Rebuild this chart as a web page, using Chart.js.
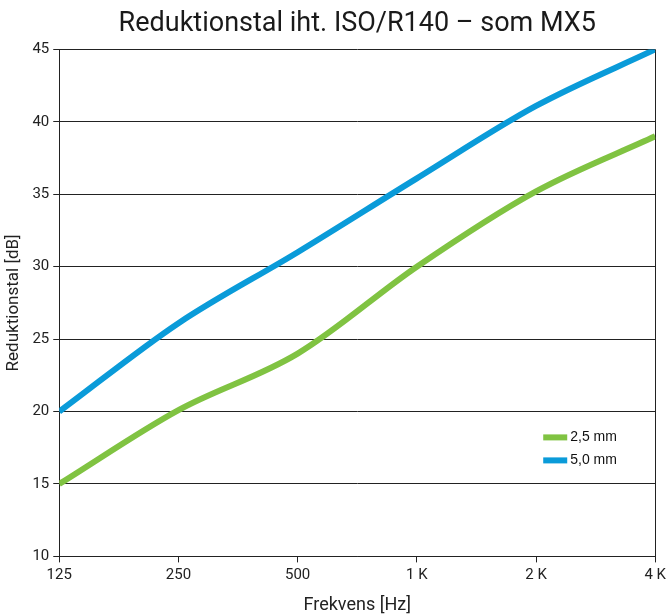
<!DOCTYPE html>
<html>
<head>
<meta charset="utf-8">
<script src="https://cdn.jsdelivr.net/npm/chart.js@4.4.1/dist/chart.umd.min.js"></script>
<style>
  body { margin: 0; background: #fff; }
  #wrap { width: 670px; height: 616px; }
</style>
</head>
<body>
<div id="wrap"><canvas id="myChart"></canvas></div>
<script>
var freqs = [125, 250, 500, 1000, 2000, 4000];
var thin = [15, 20.1, 24, 30, 35.2, 39];
var thick = [20, 26.1, 31, 36.1, 41.1, 45];
var tickLabels = ["125", "250", "500", "1 K", "2 K", "4 K"];
var seriesNames = ["2,5 mm", "5,0 mm"];
var seriesColors = ["#80c342", "#0a9bd9"];

function points(vals) {
   return freqs.map(function (f, i) { return { x: f, y: vals[i] }; });
}

// legend sits inside the plot, lower right
var innerLegend = {
   id: 'innerLegend',
   afterDraw: function (chart) {
      var c = chart.ctx, a = chart.chartArea;
      var x = a.right - 112, y = a.bottom - 119;
      c.save();
      c.font = '14px "Liberation Sans", Arial, sans-serif';
      c.textBaseline = 'middle';
      chart.data.datasets.forEach(function (ds, i) {
         var yy = y + i * 23;
         c.fillStyle = ds.borderColor;
         c.fillRect(x, yy - 3, 24, 6);
         c.fillStyle = '#111';
         c.fillText(ds.label, x + 27, yy);
      });
      c.restore();
   }
};

var ctx = document.getElementById("myChart").getContext('2d');
var myChart = new Chart(ctx, {
   type: 'line',
   data: {
      datasets: [{
         label: seriesNames[0],
         data: points(thin),
         borderColor: seriesColors[0],
         borderWidth: 6,
         pointRadius: 0,
         cubicInterpolationMode: 'monotone',
         fill: false
      }, {
         label: seriesNames[1],
         data: points(thick),
         borderColor: seriesColors[1],
         borderWidth: 6,
         pointRadius: 0,
         cubicInterpolationMode: 'monotone',
         fill: false
      }]
   },
   options: {
      responsive: true,
      maintainAspectRatio: false,
      animation: false,
      layout: { padding: { left: 4, right: 0, top: 0, bottom: 0 } },
      plugins: {
         legend: { display: false },
         tooltip: { enabled: false },
         title: {
            display: true,
            fullSize: false,
            text: 'Reduktionstal iht. ISO/R140 – som MX5',
            color: '#1a1a1a',
            font: { family: '"Liberation Sans Narrow", "Roboto", sans-serif', size: 27, weight: 'normal' },
            padding: { top: 8, bottom: 9 }
         }
      },
      scales: {
         x: {
            type: 'logarithmic',
            min: 125,
            max: 4000,
            afterBuildTicks: function (scale) {
               scale.ticks = freqs.map(function (v) { return { value: v }; });
            },
            ticks: {
               autoSkip: false,
               maxRotation: 0,
               color: '#222',
               font: { family: '"Liberation Sans Narrow", "Roboto", sans-serif', size: 15 },
               padding: 4,
               callback: function (v) {
                  var i = freqs.indexOf(v);
                  return i >= 0 ? tickLabels[i] : '';
               }
            },
            grid: {
               color: function (c) { return c.index === freqs.length - 1 ? '#222' : 'rgba(0,0,0,0)'; },
               tickColor: '#222',
               tickLength: 6,
               lineWidth: 1
            },
            border: { display: true, color: '#222', width: 1 },
            title: {
               display: true,
               text: 'Frekvens [Hz]',
               color: '#222',
               font: { family: '"Liberation Sans Narrow", "Roboto", sans-serif', size: 18 },
               padding: { top: 6, bottom: 0 }
            }
         },
         y: {
            min: 10,
            max: 45,
            ticks: {
               stepSize: 5,
               color: '#222',
               font: { family: '"Liberation Sans Narrow", "Roboto", sans-serif', size: 15 },
               padding: 4
            },
            grid: {
               color: '#222',
               tickColor: '#222',
               tickLength: 6,
               lineWidth: 1
            },
            border: { display: true, color: '#222', width: 1 },
            title: {
               display: true,
               text: 'Reduktionstal [dB]',
               color: '#222',
               font: { family: '"Liberation Sans Narrow", "Roboto", sans-serif', size: 17 },
               padding: { top: 0, bottom: 4 }
            }
         }
      }
   },
   plugins: [innerLegend]
});
</script>
</body>
</html>
